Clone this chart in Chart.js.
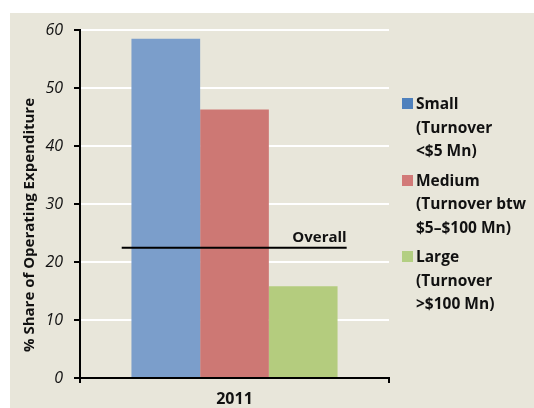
<!DOCTYPE html>
<html>
<head>
<meta charset="utf-8">
<script src="https://cdn.jsdelivr.net/npm/chart.js@4/dist/chart.umd.min.js"></script>
<style>
  html, body { margin: 0; padding: 0; background: #ffffff; }
  #wrap { position: relative; width: 534px; height: 408px; overflow: hidden; }
  #bg { position: absolute; left: 10px; top: 13px; right: 0; bottom: 0; background: #e8e6da; }
  #c { position: absolute; left: 0; top: 0; }
  #legend { position: absolute; left: 402px; top: 92px; font-family: "Open Sans", Lato, sans-serif; font-weight: bold; font-size: 15.5px; color: #111; }
  .item { position: relative; padding-left: 14px; line-height: 23.5px; margin-bottom: 6px; white-space: nowrap; }
  .box { position: absolute; left: 0; top: 6px; width: 11px; height: 11px; }
</style>
</head>
<body>
<div id="wrap">
  <div id="bg"></div>
  <canvas id="c" width="534" height="408"></canvas>
  <div id="legend"></div>
</div>
<script>
// ---- data ----
const categories = ['2011'];
const seriesLabels = [
  ['Small', '(Turnover', '<$5 Mn)'],
  ['Medium', '(Turnover btw', '$5\u2013$100 Mn)'],
  ['Large', '(Turnover', '>$100 Mn)']
];
const smallValues = [58.5];
const mediumValues = [46.3];
const largeValues = [15.8];
const overallValues = [22.45];
const overallLabel = 'Overall';
const yAxisTitle = '% Share of Operating Expenditure';
const yTickValues = [0, 10, 20, 30, 40, 50, 60];

// ---- styles ----
const barColors = ['#7b9ecb', '#cd7874', '#b4cc7e'];
const legendColors = ['#4f81bd', '#d27a78', '#b3cf82'];
const FONT = '"Open Sans", Lato, sans-serif';

// HTML legend
const legendEl = document.getElementById('legend');
seriesLabels.forEach((lines, i) => {
  const d = document.createElement('div');
  d.className = 'item';
  const b = document.createElement('span');
  b.className = 'box';
  b.style.background = legendColors[i];
  d.appendChild(b);
  lines.forEach((t, j) => {
    if (j > 0) d.appendChild(document.createElement('br'));
    d.appendChild(document.createTextNode(t));
  });
  legendEl.appendChild(d);
});

const overallPlugin = {
  id: 'overall',
  afterDatasetsDraw(chart) {
    const ctx = chart.ctx;
    const x = chart.scales.x, y = chart.scales.y;
    const cw = x.width / categories.length;
    ctx.save();
    categories.forEach((c, i) => {
      const cx = x.getPixelForValue(i);
      const x0 = cx - cw * 0.365, x1 = cx + cw * 0.363;
      const py = y.getPixelForValue(overallValues[i]);
      ctx.strokeStyle = '#000';
      ctx.lineWidth = 2;
      ctx.beginPath();
      ctx.moveTo(x0, py);
      ctx.lineTo(x1, py);
      ctx.stroke();
      ctx.fillStyle = '#111';
      ctx.font = 'bold 15px ' + FONT;
      ctx.textAlign = 'right';
      ctx.textBaseline = 'alphabetic';
      ctx.fillText(overallLabel, x1, py - 6);
    });
    // y axis title
    const ca = chart.chartArea;
    ctx.translate(30, ca.bottom - 153);
    ctx.rotate(-Math.PI / 2);
    ctx.textAlign = 'center';
    ctx.textBaseline = 'middle';
    ctx.font = 'bold 15px ' + FONT;
    ctx.fillStyle = '#111';
    ctx.fillText(yAxisTitle, 0, 0);
    ctx.restore();
  }
};

new Chart(document.getElementById('c'), {
  type: 'bar',
  data: {
    labels: categories,
    datasets: [
      { label: seriesLabels[0].join(' '), data: smallValues, backgroundColor: barColors[0] },
      { label: seriesLabels[1].join(' '), data: mediumValues, backgroundColor: barColors[1] },
      { label: seriesLabels[2].join(' '), data: largeValues, backgroundColor: barColors[2] }
    ]
  },
  options: {
    responsive: false,
    animation: false,
    layout: { padding: { left: 10, right: 145, top: 30, bottom: 0 } },
    datasets: { bar: { categoryPercentage: 0.667, barPercentage: 1.0, borderWidth: 0 } },
    plugins: { legend: { display: false }, tooltip: { enabled: false } },
    scales: {
      x: {
        afterFit(s) { s.height = 30; },
        grid: { drawOnChartArea: false, color: '#000', tickColor: '#000', tickLength: 5, lineWidth: 2 },
        border: { color: '#000', width: 2 },
        ticks: { color: '#111', font: { family: FONT, weight: 'bold', size: 16 }, padding: 7 }
      },
      y: {
        min: 0, max: 60,
        afterFit(s) { s.width = 70; },
        afterBuildTicks(s) { s.ticks = yTickValues.map(v => ({ value: v })); },
        grid: { color: '#ffffff', lineWidth: 2, tickColor: '#000', tickLength: 6 },
        border: { color: '#000', width: 2 },
        ticks: { color: '#111', font: { family: FONT, style: 'italic', size: 16 }, padding: 11 }
      }
    }
  },
  plugins: [overallPlugin]
});
</script>
</body>
</html>
